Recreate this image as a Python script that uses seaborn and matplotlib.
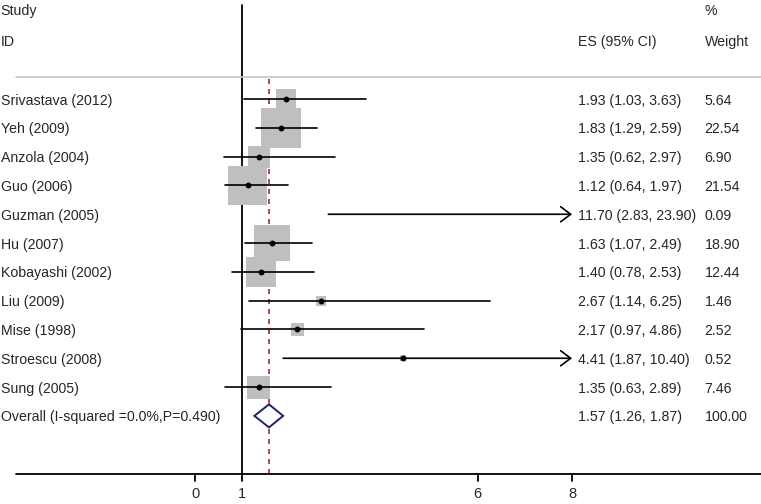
import numpy as np
import pandas as pd
import seaborn as sns
import matplotlib.pyplot as plt
from matplotlib.patches import Polygon

studies = ['Srivastava (2012)', 'Yeh (2009)', 'Anzola (2004)', 'Guo (2006)', 'Guzman (2005)',
           'Hu (2007)', 'Kobayashi (2002)', 'Liu (2009)', 'Mise (1998)', 'Stroescu (2008)',
           'Sung (2005)']
es = [1.93, 1.83, 1.35, 1.12, 11.70, 1.63, 1.40, 2.67, 2.17, 4.41, 1.35]
lo = [1.03, 1.29, 0.62, 0.64, 2.83, 1.07, 0.78, 1.14, 0.97, 1.87, 0.63]
hi = [3.63, 2.59, 2.97, 1.97, 23.90, 2.49, 2.53, 6.25, 4.86, 10.40, 2.89]
weight = [5.64, 22.54, 6.90, 21.54, 0.09, 18.90, 12.44, 1.46, 2.52, 0.52, 7.46]
overall_label = 'Overall (I-squared =0.0%,P=0.490)'
overall = (1.57, 1.26, 1.87)
xticks = [0, 1, 6, 8]

sns.set_theme(style='white')
plt.rcParams['font.family'] = ['Liberation Sans', 'DejaVu Sans']

df = pd.DataFrame({'study': studies, 'es': es, 'lo': lo, 'hi': hi, 'weight': weight})
df['row'] = np.arange(len(df))
xmax = 8

fig = plt.figure(figsize=(7.61, 5.04), dpi=100)
ax = fig.add_axes([0, 0, 1, 1])
ax.set_xlim(-4.138, 12.01)
ax.set_ylim(14.06, -3.44)
ax.axis('off')

shown = df[df['es'] <= xmax]
# weight boxes (area ~ weight)
sns.scatterplot(data=shown, x='es', y='row', size='weight', sizes=(0, 829),
                size_norm=(0, 22.54), marker='s', color='#bfbfbf', linewidth=0,
                legend=False, ax=ax, zorder=2)

# confidence intervals, arrow when cut off at the axis end
for _, r in df.iterrows():
    if r['hi'] > xmax:
        ax.annotate('', xy=(xmax, r['row']), xytext=(r['lo'], r['row']),
                    arrowprops=dict(arrowstyle='->,head_length=0.45,head_width=0.34',
                                    color='black', lw=1.2,
                                    mutation_scale=16, shrinkA=0, shrinkB=0), zorder=3)
    else:
        ax.plot([r['lo'], r['hi']], [r['row'], r['row']], color='black', lw=1.2, zorder=3)

sns.scatterplot(data=shown, x='es', y='row', color='black', s=18, linewidth=0,
                legend=False, ax=ax, zorder=4)

# overall diamond
orow = len(df)
oe, olo, ohi = overall
h = 0.4
ax.add_patch(Polygon([(olo, orow), (oe, orow - h), (ohi, orow), (oe, orow + h)],
                     closed=True, facecolor='white', edgecolor='#1f1f6b', lw=1.4, zorder=5))

bottom = 13.02
ax.plot([1, 1], [-3.27, bottom], color='black', lw=1.3, zorder=1)
ax.plot([oe, oe], [-0.7, bottom], color='#a52a2a', lw=1.2, ls=(0, (3, 3)), zorder=1)
ax.plot([oe, oe], [orow - h, orow + h], color='white', lw=2, zorder=4.5)
ax.plot([-3.8, 12.01], [-0.76, -0.76], color='#c8c8c8', lw=1.2, zorder=1)
ax.plot([-3.8, 12.01], [bottom, bottom], color='black', lw=1.3, zorder=1)
for t in xticks:
    ax.plot([t, t], [bottom, bottom + 0.24], color='black', lw=1.3)
    ax.text(t, bottom + 0.68, str(t), ha='center', va='center', fontsize=10.5)

# text columns
tr = ax.get_yaxis_transform()
fs = 10.2
kw = dict(transform=tr, fontsize=fs, va='center_baseline')
ax.text(0.001, -3.1, 'Study', **kw)
ax.text(0.001, -2.03, 'ID', **kw)
ax.text(0.760, -2.03, 'ES (95% CI)', **kw)
ax.text(0.926, -3.1, '%', **kw)
ax.text(0.926, -2.03, 'Weight', **kw)
for _, r in df.iterrows():
    ax.text(0.001, r['row'], r['study'], **kw)
    ax.text(0.760, r['row'], f"{r['es']:.2f} ({r['lo']:.2f}, {r['hi']:.2f})", **kw)
    ax.text(0.926, r['row'], f"{r['weight']:.2f}", **kw)
ax.text(0.001, orow, overall_label, **kw)
ax.text(0.760, orow, f"{oe:.2f} ({olo:.2f}, {ohi:.2f})", **kw)
ax.text(0.926, orow, '100.00', **kw)

fig.savefig('out.png', dpi=100)
